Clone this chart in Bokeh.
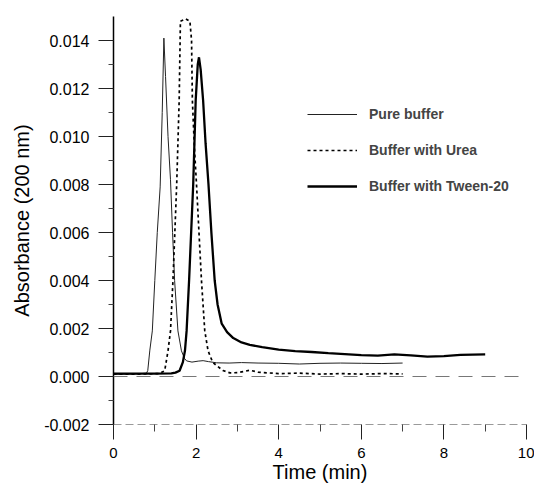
from bokeh.plotting import figure
from bokeh.models import Range1d, FixedTicker, NumeralTickFormatter, Span, Legend, LegendItem
from bokeh.embed import file_html
from bokeh.resources import INLINE

# ---- data ----
time_pure = [0.0, 0.3, 0.6, 0.8, 0.83, 0.88, 0.94, 1.0, 1.06, 1.13, 1.18, 1.22, 1.26, 1.32, 1.38,
             1.43, 1.48, 1.56, 1.645, 1.72, 1.77, 1.9, 2.05, 2.17, 2.3, 2.5, 2.8, 3.1, 3.5, 4.0,
             4.5, 5.0, 5.5, 6.0, 6.5, 7.0]
abs_pure = [0.0001, 0.0001, 0.00011, 0.00014, 0.00025, 0.0011, 0.0019, 0.0040, 0.0060, 0.0079,
            0.0110, 0.0141, 0.0125, 0.0100, 0.0082, 0.0060, 0.0040, 0.0019, 0.00107, 0.00075,
            0.00065, 0.0006, 0.00064, 0.00066, 0.00062, 0.00057, 0.00056, 0.00058, 0.00056, 0.00055,
            0.00052, 0.00055, 0.00056, 0.00055, 0.00054, 0.00056]

time_urea = [0.0, 0.6, 1.1, 1.24, 1.32, 1.38, 1.44, 1.53, 1.59, 1.62, 1.75, 1.85, 1.89, 1.91, 1.96,
             2.01, 2.07, 2.13, 2.21, 2.29, 2.4, 2.5, 2.65, 2.82, 3.0, 3.3, 3.5, 4.0, 4.5, 5.0,
             5.5, 6.0, 6.5, 7.0]
abs_urea = [0.0001, 0.0001, 0.00012, 0.00024, 0.00107, 0.0019, 0.0040, 0.0080, 0.0115, 0.0148,
            0.0149, 0.0148, 0.0140, 0.0115, 0.0095, 0.0080, 0.0060, 0.0040, 0.0019, 0.00107,
            0.0006, 0.00045, 0.00025, 0.00015, 0.00016, 0.00026, 0.00018, 0.00012, 0.00014, 0.0001,
            0.00012, 0.0001, 0.00012, 0.00011]

time_tween = [0.0, 0.5, 1.0, 1.4, 1.5, 1.6, 1.68, 1.73, 1.77, 1.83, 1.93, 1.99, 2.04, 2.07, 2.11,
              2.17, 2.23, 2.30, 2.37, 2.45, 2.52, 2.62, 2.75, 2.9, 3.1, 3.3, 3.6, 4.0, 4.4, 4.8,
              5.2, 5.6, 6.0, 6.4, 6.8, 7.2, 7.6, 8.0, 8.4, 8.7, 9.0]
abs_tween = [0.00012, 0.00012, 0.00012, 0.00013, 0.00016, 0.00024, 0.0006, 0.00107, 0.0019, 0.0040,
             0.0080, 0.0115, 0.0130, 0.0133, 0.0128, 0.0115, 0.0097, 0.0080, 0.0060, 0.0040,
             0.0030, 0.0022, 0.00185, 0.0016, 0.00142, 0.00132, 0.00122, 0.00112, 0.00106, 0.00102,
             0.00097, 0.00093, 0.00089, 0.00087, 0.00092, 0.00088, 0.00083, 0.00085, 0.0009, 0.00091,
             0.00092]

series_labels = ["Pure buffer", "Buffer with Urea", "Buffer with Tween-20"]
x_ticks = [0, 2, 4, 6, 8, 10]
x_minor = [1, 3, 5, 7, 9]
y_ticks = [-0.002, 0.0, 0.002, 0.004, 0.006, 0.008, 0.010, 0.012, 0.014]
y_minor = [-0.001, 0.001, 0.003, 0.005, 0.007, 0.009, 0.011, 0.013]

FONT = "Liberation Sans"

p = figure(width=534, height=486, output_backend="svg", toolbar_location=None,
           x_range=Range1d(0, 10), y_range=Range1d(-0.002, 0.015),
           min_border_left=113, min_border_right=8, min_border_top=16, min_border_bottom=62)
p.title.visible = False
p.outline_line_color = None
p.xgrid.visible = False
p.ygrid.visible = False
p.background_fill_color = "white"

# zero reference line
p.add_layout(Span(location=0, dimension="width", line_color="#777777", line_width=1,
                  line_dash="14 9"))

r_pure = p.line(time_pure, abs_pure, line_color="#222222", line_width=1.0)
r_urea = p.line(time_urea, abs_urea, line_color="black", line_width=1.7, line_dash="3 3")
r_tween = p.line(time_tween, abs_tween, line_color="black", line_width=2.3)

# axes
p.xaxis.ticker = FixedTicker(ticks=x_ticks, minor_ticks=x_minor)
p.yaxis.ticker = FixedTicker(ticks=y_ticks, minor_ticks=y_minor)
p.yaxis.formatter = NumeralTickFormatter(format="0.000")

p.xaxis.axis_label = "Time (min)"
p.yaxis.axis_label = "Absorbance (200 nm)"

for ax in (p.xaxis, p.yaxis):
    ax.major_label_text_font = FONT
    ax.major_label_text_color = "black"
    ax.axis_label_text_font = FONT
    ax.axis_label_text_font_style = "normal"
    ax.axis_label_text_color = "black"
    ax.major_tick_in = 0
    ax.minor_tick_in = 0
    ax.major_tick_line_color = "#222222"
    ax.minor_tick_line_color = "#444444"

p.yaxis.major_label_text_font_size = "16px"
p.yaxis.axis_label_text_font_size = "20px"
p.yaxis.axis_line_width = 1.5
p.yaxis.axis_line_color = "black"
p.yaxis.major_tick_out = 15
p.yaxis.minor_tick_out = 5
p.yaxis.major_label_standoff = 9
p.yaxis.axis_label_standoff = 8

p.xaxis.major_label_text_font_size = "15px"
p.xaxis.axis_label_text_font_size = "20px"
p.xaxis.axis_line_color = "#9a9a9a"
p.xaxis.axis_line_dash = "8 4"
p.xaxis.major_tick_out = 15
p.xaxis.minor_tick_out = 7
p.xaxis.major_label_standoff = 8
p.xaxis.axis_label_standoff = 0

legend = Legend(items=[LegendItem(label=series_labels[0], renderers=[r_pure]),
                       LegendItem(label=series_labels[1], renderers=[r_urea]),
                       LegendItem(label=series_labels[2], renderers=[r_tween])],
                location=(194, 228), glyph_width=50, label_standoff=12, spacing=16,
                label_height=20, padding=10, margin=0,
                label_text_font=FONT, label_text_font_size="14px", label_text_font_style="bold",
                background_fill_alpha=0, border_line_color=None)
p.add_layout(legend)

open("out.html", "w").write(file_html(p, INLINE))
